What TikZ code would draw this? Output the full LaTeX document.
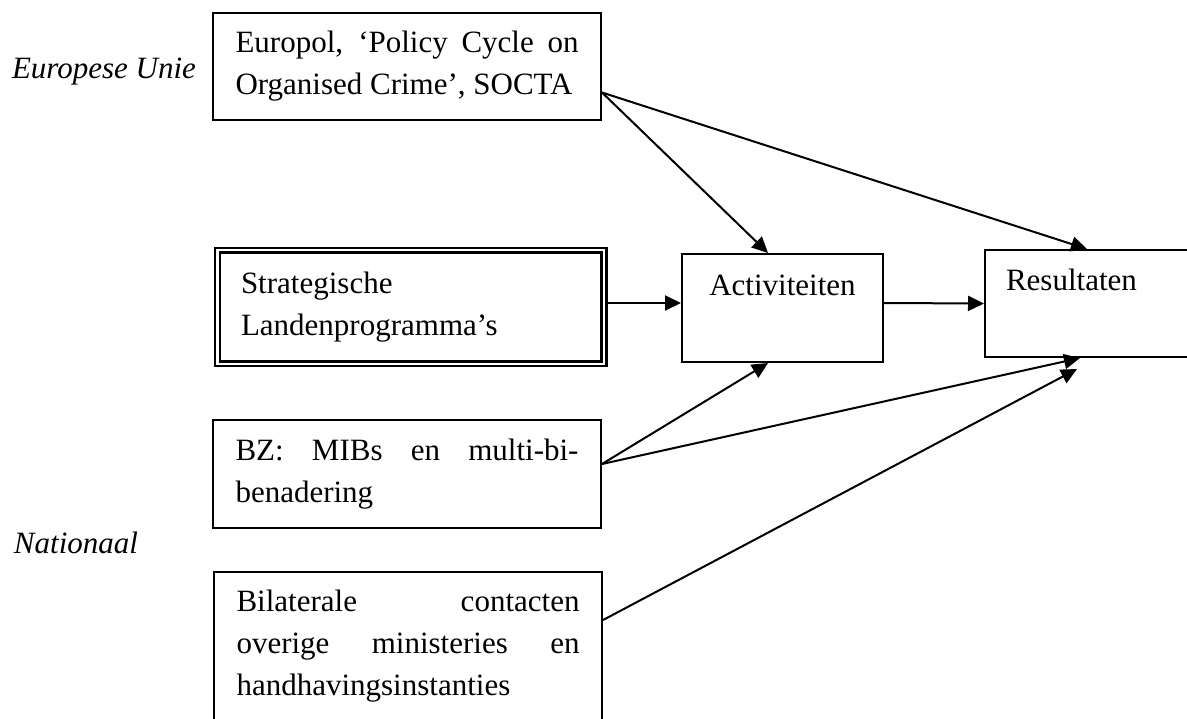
\documentclass[tikz,border=0pt]{standalone}
\usepackage{fontspec}
\setmainfont{Liberation Serif}
\usetikzlibrary{arrows.meta}
\tolerance=10000
\hbadness=10000

\tikzset{
    txt/.style={font=\fontsize{15.5}{21}\selectfont},
    side/.style={font=\fontsize{15.5}{21}\selectfont\itshape},
    box/.style={draw, line width=1pt, inner ysep=0pt, txt},
    para/.style={box, align=justify, text width=171.5pt, inner xsep=11.25pt},
    dbl/.style={box, double, line width=1.2pt, double distance=1.2pt},
    arr/.style={-{Triangle[length=8pt,width=7.5pt]}, line width=1pt}
    }

\begin{document}
\begin{tikzpicture}[x=0.5pt, y=-0.5pt]
                \clip (0,0) rectangle (1187,718);
                % The levels
                \node(eu)[side] at (104,72) {Europese Unie};
                \node(nat)[side] at (76,543) {Nationaal};
                % The boxes
                \node(europol)[para, minimum height=53.5pt] at (407,66.5)
                    {Europol, ‘Policy Cycle on\linebreak Organised Crime’, SOCTA};
                \node(strat)[dbl, align=left, text width=169.75pt, inner xsep=11.75pt,
                    minimum height=56.75pt] at (410.75,307)
                    {Strategische\\Landenprogramma’s};
                \node(act)[box, minimum width=100.5pt, text height=20.5pt,
                    text depth=33.5pt] at (782.5,308) {Activiteiten};
                \node(res)[box, align=left, text width=84pt, inner xsep=10.5pt,
                    text height=20pt, text depth=33.5pt] at (1090,303.5) {Resultaten};
                \node(bz)[para, minimum height=54pt] at (407,474)
                    {BZ: MIBs en multi-bi-\linebreak benadering};
                \node(bil)[para, minimum height=74pt] at (408,646)
                    {Bilaterale contacten\linebreak overige ministeries en\linebreak handhavingsinstanties};
                % The arrows
                \draw[arr] ([yshift=-13pt]europol.east) -- ([xshift=-7.25pt]act.north);
                \draw[arr] ([yshift=-13pt]europol.east) -- ([xshift=-1.5pt]res.north);
                \draw[arr] ([yshift=2pt]strat.east) -- ([yshift=2.5pt]act.west);
                \draw[arr] ([yshift=2.5pt]act.east) -- (res.west);
                \draw[arr] ([yshift=5pt]bz.east) -- ([xshift=-7.25pt]act.south);
                \draw[arr] ([yshift=5pt]bz.east) -- ([xshift=-5pt]res.south);
                \draw[arr] ([yshift=13pt]bil.east) -- ([xshift=-6.5pt,yshift=-5.5pt]res.south);
            \end{tikzpicture}
\end{document}
